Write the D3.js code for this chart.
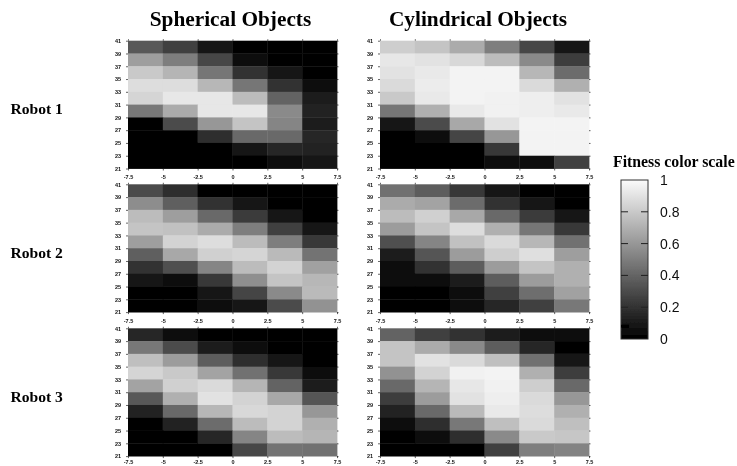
<!DOCTYPE html>
<html>
<head>
<meta charset="utf-8">
<script src="https://cdn.jsdelivr.net/npm/d3@7"></script>
<style>
  html, body { margin: 0; padding: 0; background: #fff; }
  svg { display: block; }
  .title, .robot, .legendTitle { font-family: "Liberation Serif", serif; font-weight: bold; fill: #000; }
  .axis text { font-family: "Liberation Sans", sans-serif; font-size: 5.5px; font-weight: bold; fill: #111; }
  .axis path { display: none; }
  .axis line { stroke: #222; stroke-width: 0.7; }
</style>
</head>
<body>
<svg id="chart" width="737" height="466"></svg>
<script>
// bin edges
const xTicks = [-7.5, -5, -2.5, 0, 2.5, 5, 7.5];
const yTicks = [41, 39, 37, 35, 33, 31, 29, 27, 25, 23, 21];
const columns = ["Spherical Objects", "Cylindrical Objects"];
const robots = ["Robot 1", "Robot 2", "Robot 3"];
const scaleTicks = [0, 0.2, 0.4, 0.6, 0.8, 1];

// fitness per cell, top row (y=41) first, estimated from the grey levels
const robot1Sphere = [
  [.35,.25,.08,.01,.01,.01],
  [.63,.50,.28,.06,.01,.01],
  [.80,.72,.47,.20,.07,.02],
  [.88,.88,.73,.47,.20,.05],
  [.85,.92,.92,.75,.40,.12],
  [.48,.68,.92,.92,.55,.14],
  [.02,.30,.60,.78,.53,.12],
  [.02,.02,.18,.42,.42,.16],
  [.02,.02,.02,.08,.16,.14],
  [.02,.02,.02,.02,.03,.09]];
const robot1Cylinder = [
  [.82,.78,.68,.50,.28,.10],
  [.92,.90,.86,.75,.55,.24],
  [.90,.93,.97,.97,.73,.43],
  [.87,.94,.97,.97,.87,.70],
  [.80,.93,.97,.96,.95,.90],
  [.47,.70,.93,.96,.95,.93],
  [.08,.30,.67,.90,.97,.97],
  [.02,.06,.27,.60,.97,.97],
  [.02,.02,.02,.22,.97,.97],
  [.02,.02,.02,.04,.05,.26]];
const robot2Sphere = [
  [.30,.18,.02,.02,.01,.01],
  [.56,.38,.20,.08,.02,.01],
  [.75,.63,.42,.23,.10,.02],
  [.78,.77,.68,.50,.25,.08],
  [.63,.84,.88,.75,.50,.22],
  [.38,.67,.83,.85,.74,.46],
  [.20,.32,.53,.75,.84,.64],
  [.08,.05,.22,.57,.78,.73],
  [.02,.02,.08,.27,.55,.74],
  [.01,.01,.06,.10,.30,.58]];
const robot2Cylinder = [
  [.45,.37,.22,.08,.02,.02],
  [.68,.65,.43,.20,.08,.02],
  [.75,.83,.67,.42,.23,.10],
  [.62,.78,.88,.70,.47,.22],
  [.32,.53,.77,.87,.73,.45],
  [.12,.34,.62,.82,.89,.63],
  [.06,.20,.37,.62,.78,.70],
  [.03,.03,.12,.37,.62,.70],
  [.02,.02,.06,.25,.44,.64],
  [.01,.01,.03,.15,.26,.48]];
const robot3Sphere = [
  [.16,.04,.01,.01,.01,.01],
  [.48,.30,.12,.03,.01,.01],
  [.76,.62,.37,.18,.07,.01],
  [.85,.80,.65,.45,.22,.05],
  [.65,.83,.87,.72,.40,.12],
  [.35,.70,.90,.84,.67,.34],
  [.13,.42,.73,.86,.84,.60],
  [.02,.14,.43,.75,.84,.70],
  [.01,.02,.16,.53,.75,.72],
  [.01,.01,.02,.28,.46,.45]];
const robot3Cylinder = [
  [.40,.25,.20,.12,.03,.03],
  [.78,.68,.55,.37,.15,.02],
  [.78,.90,.87,.76,.45,.10],
  [.58,.84,.96,.97,.70,.24],
  [.42,.72,.92,.96,.82,.42],
  [.24,.62,.90,.95,.87,.60],
  [.13,.42,.74,.93,.88,.70],
  [.04,.18,.48,.76,.87,.76],
  [.02,.06,.18,.55,.80,.79],
  [.02,.02,.02,.25,.50,.52]];

const panels = [
  [robot1Sphere, robot1Cylinder],
  [robot2Sphere, robot2Cylinder],
  [robot3Sphere, robot3Cylinder]
];

const svg = d3.select("#chart");
const color = d3.scaleLinear().domain([0, 1]).range(["#000000", "#fbfbfb"]);

const defs = svg.append("defs");
defs.append("filter").attr("id", "soft")
    .attr("x", "-5%").attr("y", "-5%").attr("width", "110%").attr("height", "110%")
    .append("feGaussianBlur").attr("stdDeviation", 0.7);
defs.append("filter").attr("id", "softText")
    .attr("x", "-5%").attr("y", "-20%").attr("width", "110%").attr("height", "140%")
    .append("feGaussianBlur").attr("stdDeviation", 0.3);

const colLeft = [128, 380];
const rowTop = [40.7, 184.3, 328.3];
const bottomPad = [5, 5, 2];  // last row has to stay inside the window
const plotW = 209;
const plotH = 127.8;
const plain = d => String(d);

panels.forEach((row, r) => {
  row.forEach((values, c) => {
    const x = d3.scaleLinear().domain([-7.5, 7.5]).range([0, plotW]);
    const y = d3.scaleLinear().domain([21, 41]).range([plotH, 0]);
    const g = svg.append("g").attr("transform", `translate(${colLeft[c]},${rowTop[r]})`);

    const cells = [];
    values.forEach((vals, i) => vals.forEach((v, j) => {
      cells.push({ x0: xTicks[j], x1: xTicks[j + 1], y0: yTicks[i + 1], y1: yTicks[i], v: v });
    }));

    g.append("g").attr("filter", "url(#soft)")
      .selectAll("rect").data(cells).enter().append("rect")
      .attr("x", d => x(d.x0))
      .attr("y", d => y(d.y1))
      .attr("width", d => x(d.x1) - x(d.x0) + 0.4)
      .attr("height", d => y(d.y0) - y(d.y1) + 0.4)
      .attr("fill", d => color(d.v));

    const axes = g.append("g").attr("filter", "url(#softText)");
    axes.append("g").attr("class", "axis")
      .attr("transform", `translate(0,${plotH})`)
      .call(d3.axisBottom(x).tickValues(xTicks).tickSize(2).tickPadding(bottomPad[r]).tickFormat(plain));
    axes.append("g").attr("class", "axis")
      .call(d3.axisLeft(y).tickValues(yTicks).tickSize(2).tickPadding(5).tickFormat(plain));
    // mirrored ticks on top and right, no labels
    axes.append("g").attr("class", "axis")
      .call(d3.axisTop(x).tickValues(xTicks).tickSize(1.5).tickFormat(""));
    axes.append("g").attr("class", "axis")
      .attr("transform", `translate(${plotW},0)`)
      .call(d3.axisRight(y).tickValues(yTicks).tickSize(1.5).tickFormat(""));
  });
});

// column and row headings
const labels = svg.append("g").attr("filter", "url(#softText)");
labels.selectAll(".title").data(columns).enter().append("text")
  .attr("class", "title")
  .attr("x", (d, i) => [230.5, 478][i])
  .attr("y", 26)
  .attr("text-anchor", "middle")
  .attr("font-size", 21.3)
  .text(d => d);

labels.selectAll(".robot").data(robots).enter().append("text")
  .attr("class", "robot")
  .attr("x", 10.5)
  .attr("y", (d, i) => [114, 258, 402][i])
  .attr("font-size", 15.6)
  .text(d => d);

// legend
labels.append("text").attr("class", "legendTitle")
  .attr("x", 613).attr("y", 167).attr("font-size", 15.8)
  .text("Fitness color scale");

const barX = 621, barW = 27, barTop = 180, barBottom = 339;
const legendY = d3.scaleLinear().domain([0, 1]).range([barBottom, barTop]);

const grad = defs.append("linearGradient").attr("id", "fitnessGrad")
  .attr("x1", 0).attr("x2", 0).attr("y1", 1).attr("y2", 0);
scaleTicks.forEach(t => {
  grad.append("stop").attr("offset", t).attr("stop-color", color(t));
});

const legend = svg.append("g").attr("filter", "url(#softText)");
legend.append("rect")
  .attr("x", barX).attr("y", barTop)
  .attr("width", barW).attr("height", barBottom - barTop)
  .attr("fill", "url(#fitnessGrad)")
  .attr("stroke", "#333").attr("stroke-width", 1);

const legendTicks = legend.append("g").selectAll("g").data(scaleTicks).enter().append("g");
legendTicks.filter(d => d > 0 && d < 1).selectAll("line").data([0, 1]).enter().append("line")
  .attr("x1", k => k ? barX + barW - 7 : barX)
  .attr("x2", k => k ? barX + barW : barX + 7)
  .attr("y1", function() { return legendY(d3.select(this.parentNode).datum()); })
  .attr("y2", function() { return legendY(d3.select(this.parentNode).datum()); })
  .attr("stroke", "#222").attr("stroke-width", 1);
legendTicks.append("text")
  .attr("x", 660)
  .attr("y", d => legendY(d) + 5)
  .attr("font-family", "Liberation Sans, sans-serif")
  .attr("font-size", 14)
  .attr("fill", "#111")
  .text(d => d);

// small dark mark on the bar
legend.append("rect")
  .attr("x", barX).attr("y", legendY(0.08) - 1.5)
  .attr("width", 8).attr("height", 3)
  .attr("fill", "#000");
</script>
</body>
</html>
